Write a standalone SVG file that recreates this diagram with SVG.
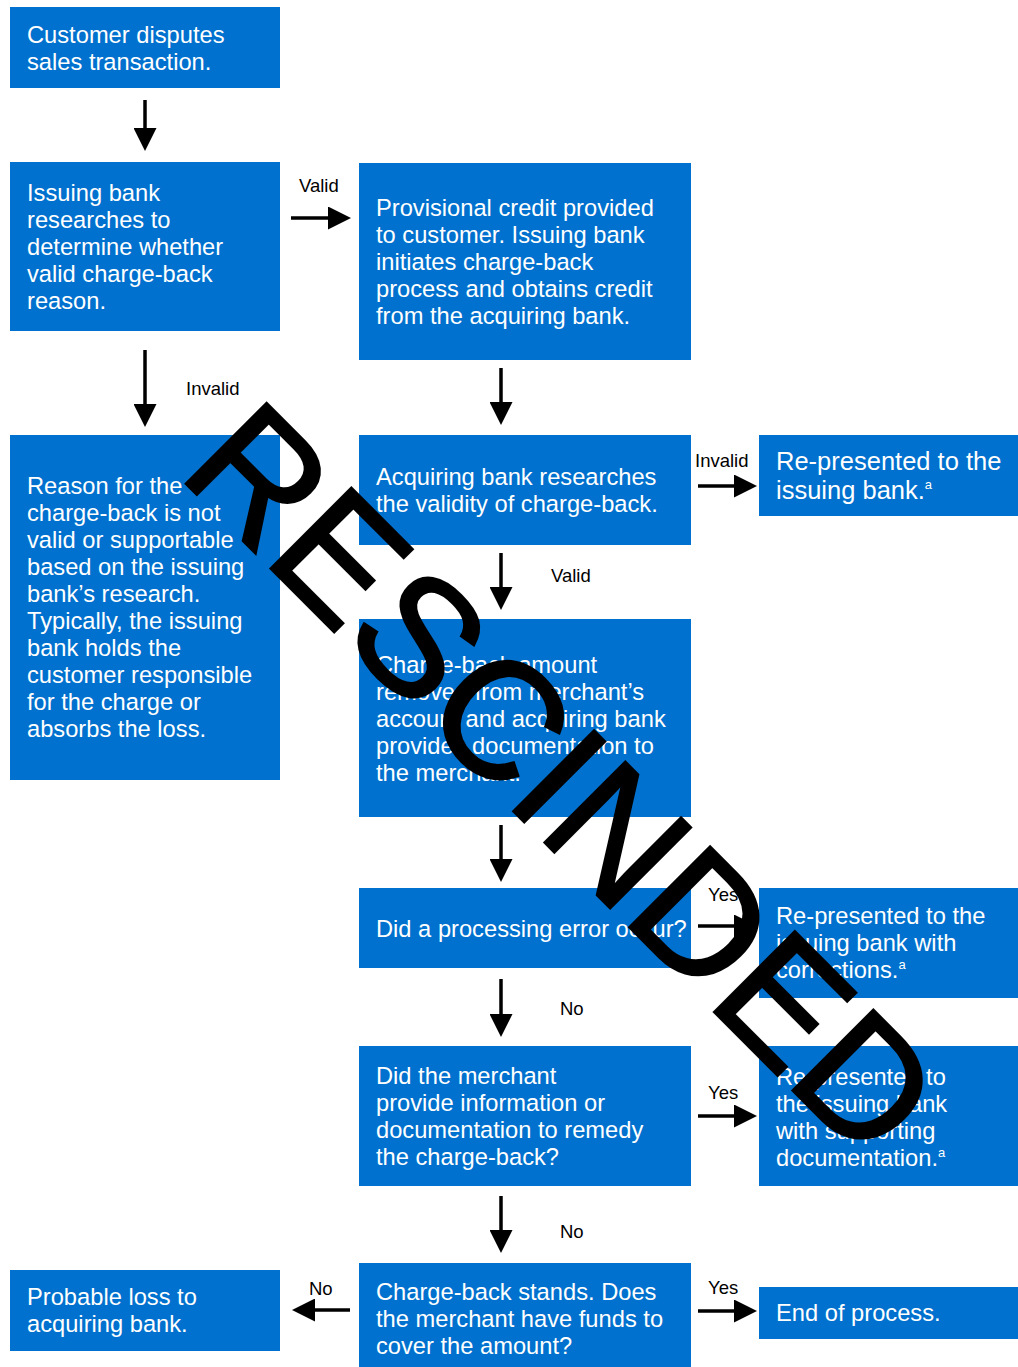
<svg xmlns="http://www.w3.org/2000/svg" width="1018" height="1367" viewBox="0 0 1018 1367">
<defs>
<style>
.box{fill:#0071CE}
.t{font-family:"Liberation Sans",Arial,Helvetica,sans-serif;font-size:23.7px;fill:#fff}
.tb{font-family:"Liberation Sans",Arial,Helvetica,sans-serif;font-size:25.5px;fill:#fff}
.sup{font-size:13px}
.lbl{font-family:"Liberation Sans",Arial,Helvetica,sans-serif;font-size:18.5px;fill:#000}
.ar{stroke:#000;stroke-width:3.5;fill:none;marker-end:url(#ah)}
.wm{font-family:"Liberation Sans",Arial,Helvetica,sans-serif;font-size:166px;fill:#000;stroke:#000;stroke-width:2.5}
</style>
<marker id="ah" markerUnits="userSpaceOnUse" viewBox="0 0 23 23" refX="11" refY="11.5" markerWidth="23" markerHeight="23" orient="auto">
<path d="M0,0 L23,11.5 L0,23 Z" fill="#000"/>
</marker>
</defs>
<rect width="1018" height="1367" fill="#fff"/>

<g id="n1"><rect class="box" x="10" y="7" width="270" height="81"/>
<text class="t" x="27" y="43">Customer disputes</text><text class="t" x="27" y="70">sales transaction.</text></g>

<g id="n2"><rect class="box" x="10" y="162" width="270" height="169"/>
<text class="t" x="27" y="201">Issuing bank</text><text class="t" x="27" y="228">researches to</text><text class="t" x="27" y="255">determine whether</text><text class="t" x="27" y="282">valid charge-back</text><text class="t" x="27" y="309">reason.</text></g>

<g id="n3"><rect class="box" x="359" y="163" width="332" height="197"/>
<text class="t" x="376" y="216">Provisional credit provided</text><text class="t" x="376" y="243">to customer. Issuing bank</text><text class="t" x="376" y="270">initiates charge-back</text><text class="t" x="376" y="297">process and obtains credit</text><text class="t" x="376" y="324">from the acquiring bank.</text></g>

<g id="n4"><rect class="box" x="10" y="435" width="270" height="345"/>
<text class="t" x="27" y="494">Reason for the</text><text class="t" x="27" y="521">charge-back is not</text><text class="t" x="27" y="548">valid or supportable</text><text class="t" x="27" y="575">based on the issuing</text><text class="t" x="27" y="602">bank’s research.</text><text class="t" x="27" y="629">Typically, the issuing</text><text class="t" x="27" y="656">bank holds the</text><text class="t" x="27" y="683">customer responsible</text><text class="t" x="27" y="710">for the charge or</text><text class="t" x="27" y="737">absorbs the loss.</text></g>

<g id="n5"><rect class="box" x="359" y="435" width="332" height="110"/>
<text class="t" x="376" y="485">Acquiring bank researches</text><text class="t" x="376" y="512">the validity of charge-back.</text></g>

<g id="n6"><rect class="box" x="759" y="435" width="259" height="81"/>
<text class="tb" x="776" y="470">Re-presented to the</text><text class="tb" x="776" y="499">issuing bank.<tspan class="sup" dy="-10">a</tspan></text></g>

<g id="n7"><rect class="box" x="359" y="619" width="332" height="198"/>
<text class="t" x="376" y="673">Charge-back amount</text><text class="t" x="376" y="700">removed from merchant’s</text><text class="t" x="376" y="727">account and acquiring bank</text><text class="t" x="376" y="754">provides documentation to</text><text class="t" x="376" y="781">the merchant.</text></g>

<g id="n8"><rect class="box" x="359" y="888" width="332" height="80"/>
<text class="t" x="376" y="937">Did a processing error occur?</text></g>

<g id="n9"><rect class="box" x="759" y="888" width="259" height="110"/>
<text class="t" x="776" y="924">Re-presented to the</text><text class="t" x="776" y="951">issuing bank with</text><text class="t" x="776" y="978">corrections.<tspan class="sup" dy="-9">a</tspan></text></g>

<g id="n10"><rect class="box" x="359" y="1046" width="332" height="140"/>
<text class="t" x="376" y="1084">Did the merchant</text><text class="t" x="376" y="1111">provide information or</text><text class="t" x="376" y="1138">documentation to remedy</text><text class="t" x="376" y="1165">the charge-back?</text></g>

<g id="n11"><rect class="box" x="759" y="1046" width="259" height="140"/>
<text class="t" x="776" y="1085">Re-presented to</text><text class="t" x="776" y="1112">the issuing bank</text><text class="t" x="776" y="1139">with supporting</text><text class="t" x="776" y="1166">documentation.<tspan class="sup" dy="-9">a</tspan></text></g>

<g id="n12"><rect class="box" x="359" y="1263" width="332" height="104"/>
<text class="t" x="376" y="1300">Charge-back stands. Does</text><text class="t" x="376" y="1327">the merchant have funds to</text><text class="t" x="376" y="1354">cover the amount?</text></g>

<g id="n13"><rect class="box" x="10" y="1270" width="270" height="81"/>
<text class="t" x="27" y="1305">Probable loss to</text><text class="t" x="27" y="1332">acquiring bank.</text></g>

<g id="n14"><rect class="box" x="759" y="1287" width="259" height="52"/>
<text class="t" x="776" y="1321">End of process.</text></g>

<g id="connectors">
<line class="ar" x1="145" y1="100" x2="145" y2="139"/>
<line class="ar" x1="145" y1="350" x2="145" y2="415"/>
<line class="ar" x1="291" y1="218" x2="339" y2="218"/>
<line class="ar" x1="501" y1="368" x2="501" y2="413"/>
<line class="ar" x1="698" y1="486" x2="745" y2="486"/>
<line class="ar" x1="501" y1="553" x2="501" y2="598"/>
<line class="ar" x1="501" y1="825" x2="501" y2="870"/>
<line class="ar" x1="698" y1="926" x2="745" y2="926"/>
<line class="ar" x1="501" y1="979" x2="501" y2="1025"/>
<line class="ar" x1="698" y1="1116" x2="745" y2="1116"/>
<line class="ar" x1="501" y1="1196" x2="501" y2="1241"/>
<line class="ar" x1="350" y1="1310" x2="304" y2="1310"/>
<line class="ar" x1="698" y1="1311" x2="745" y2="1311"/>
<text class="lbl" x="299" y="192">Valid</text>
<text class="lbl" x="186" y="395">Invalid</text>
<text class="lbl" x="695" y="467">Invalid</text>
<text class="lbl" x="551" y="582">Valid</text>
<text class="lbl" x="708" y="901">Yes</text>
<text class="lbl" x="560" y="1015">No</text>
<text class="lbl" x="708" y="1099">Yes</text>
<text class="lbl" x="560" y="1238">No</text>
<text class="lbl" x="309" y="1295">No</text>
<text class="lbl" x="708" y="1294">Yes</text>
</g>

<g id="watermark">
<text class="wm" x="0" y="0" text-anchor="middle" transform="translate(522,820) rotate(45)">RESCINDED</text>
</g>
</svg>
